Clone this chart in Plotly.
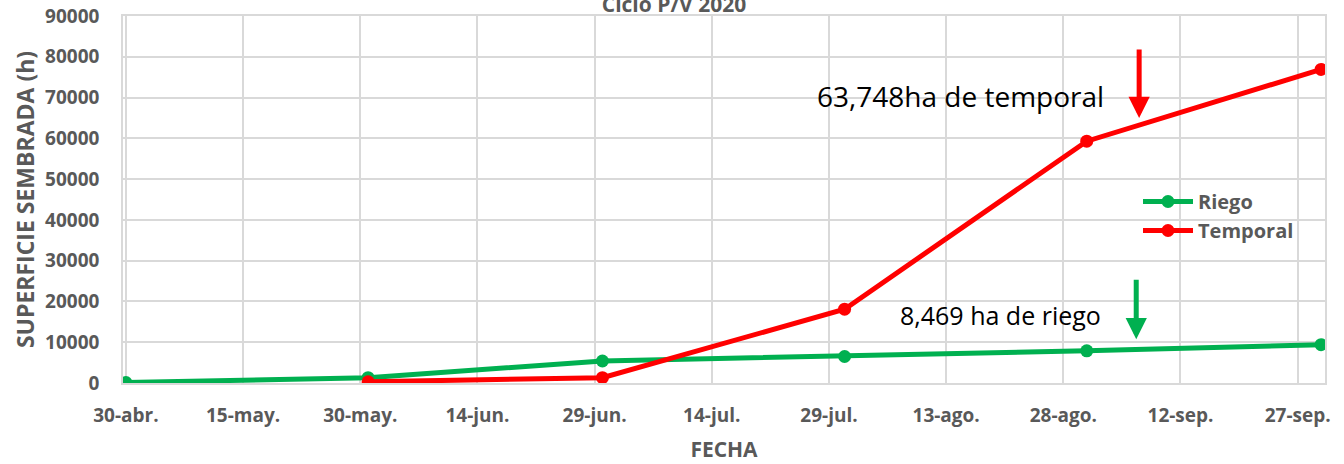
import plotly.graph_objects as go

# ---- data ----
fechas = ["2020-04-30", "2020-05-31", "2020-06-30", "2020-07-31", "2020-08-31", "2020-09-30"]
riego = [100, 1300, 5400, 6500, 7900, 9400]
temporal = [None, 300, 1300, 18100, 59300, 76900]

tick_fechas = ["2020-04-30", "2020-05-15", "2020-05-30", "2020-06-14", "2020-06-29", "2020-07-14",
               "2020-07-29", "2020-08-13", "2020-08-28", "2020-09-12", "2020-09-27"]
tick_labels = ["30-abr.", "15-may.", "30-may.", "14-jun.", "29-jun.", "14-jul.",
               "29-jul.", "13-ago.", "28-ago.", "12-sep.", "27-sep."]

titulo = "Ciclo P/V 2020"
nota_temporal = "63,748ha de temporal"
nota_riego = "8,469 ha de riego"

GREEN = "#00B050"
RED = "#FF0000"
GREY = "#595959"
GRID = "#D9D9D9"
FONT_B = "Open Sans"

fig = go.Figure()
fig.add_trace(go.Scatter(x=fechas, y=riego, name="Riego", mode="lines+markers",
                         line=dict(color=GREEN, width=5),
                         marker=dict(color=GREEN, size=13)))
fig.add_trace(go.Scatter(x=fechas, y=temporal, name="Temporal", mode="lines+markers",
                         line=dict(color=RED, width=5),
                         marker=dict(color=RED, size=13)))

fig.update_layout(
    width=1344, height=464,
    margin=dict(l=123, r=19, t=16, b=81, autoexpand=False),
    paper_bgcolor="white", plot_bgcolor="white",
    font=dict(family=FONT_B, color=GREY, size=20),
    title=dict(text=titulo, x=674 / 1344, xanchor="center",
               y=1 - 5 / 464, yanchor="middle", yref="container",
               font=dict(size=21, color=GREY, family=FONT_B, weight="bold")),
    legend=dict(x=(1138 - 123) / 1202, y=(383 - 182) / 367, xanchor="left", yanchor="top",
                bgcolor="rgba(0,0,0,0)",
                font=dict(size=20, color=GREY, family=FONT_B, weight="bold"),
                itemwidth=50, tracegroupgap=0),
    showlegend=True,
)

fig.update_xaxes(
    type="date", automargin=False,
    range=["2020-04-29 15:00", "2020-09-30 12:00"],
    tickvals=tick_fechas, ticktext=tick_labels,
    tickfont=dict(size=19, color=GREY, family=FONT_B, weight="bold"),
    showgrid=True, gridcolor=GRID, gridwidth=1.5,
    showline=True, linecolor=GRID, linewidth=1.5, mirror=True,
    ticks="", ticklabelstandoff=14,
    title=dict(text="FECHA", font=dict(size=21, color=GREY, family=FONT_B, weight="bold"),
               standoff=16),
    zeroline=False,
)
fig.update_yaxes(
    automargin=False,
    range=[0, 90000], dtick=10000, tick0=0, tickformat="d",
    tickfont=dict(size=19, color=GREY, family=FONT_B, weight="bold"),
    showgrid=True, gridcolor=GRID, gridwidth=1.5,
    showline=True, linecolor=GRID, linewidth=1.5, mirror=True,
    ticks="", ticklabelstandoff=18,
    title=dict(text="SUPERFICIE SEMBRADA (h)",
               font=dict(size=23, color=GREY, family=FONT_B, weight="bold"), standoff=4),
    zeroline=False,
)

# annotations: texts
fig.add_annotation(text=nota_temporal, xref="paper", yref="paper",
                   x=(815 - 123) / 1202, y=(383 - 96) / 367, xanchor="left", yanchor="middle",
                   showarrow=False, font=dict(size=28, color="black", family="Open Sans"))
fig.add_annotation(text=nota_riego, xref="paper", yref="paper",
                   x=(898 - 123) / 1202, y=(383 - 315) / 367, xanchor="left", yanchor="middle",
                   showarrow=False, font=dict(size=25, color="black", family="Open Sans"))

# arrows
fig.add_annotation(text="", x="2020-09-06 17:00", y=65000, xref="x", yref="y",
                   ax=0, ay=-70, axref="pixel", ayref="pixel",
                   showarrow=True, arrowhead=2, arrowsize=0.85, arrowwidth=5, arrowcolor=RED)
fig.add_annotation(text="", x="2020-09-06 08:00", y=10700, xref="x", yref="y",
                   ax=0, ay=-61, axref="pixel", ayref="pixel",
                   showarrow=True, arrowhead=2, arrowsize=0.85, arrowwidth=5, arrowcolor=GREEN)

fig.write_html("out.html", config={"displayModeBar": False},
               post_script="document.body.style.margin='0px';")
